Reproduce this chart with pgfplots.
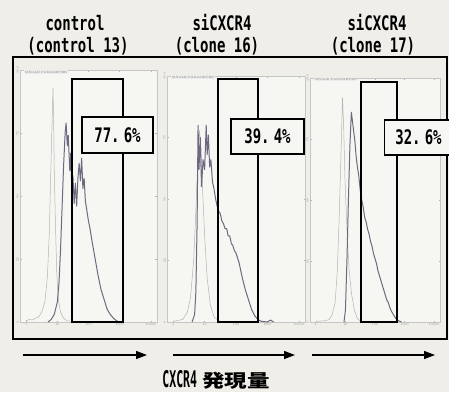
\documentclass[border=0pt]{standalone}
\usepackage{pgfplots}
\pgfplotsset{compat=1.18}
\usepackage{fontspec}
\usetikzlibrary{arrows.meta}
\newfontfamily\mono{DejaVu Sans Mono}
\newfontfamily\cjk{Noto Sans CJK JP}
\definecolor{bg}{HTML}{EFEEE9}
\definecolor{panelbg}{HTML}{F6F6F2}
\definecolor{iso}{HTML}{B3B3B3}
\definecolor{stain}{HTML}{6F6880}
\newcommand{\ttl}[1]{\scalebox{0.7}[1]{\mono\bfseries\fontsize{20}{20}\selectfont #1}}
\tikzset{gate/.style={draw=black, line width=1.8pt}}
\pgfplotsset{panel/.style={
  scale only axis, xmin=-0.2, xmax=4.2, ymin=0, ymax=100,
  axis line style={draw=gray!45, line width=0.4pt},
  axis background/.style={fill=panelbg},
  xtick={0,1,2,3,4}, xticklabels={1,10,100,1000,10000},
  ytick={0,25,50,75,100}, yticklabels={0,25,50,75,100},
  tick style={draw=gray!60, line width=0.3pt},
  major tick length=1.5pt, tick align=inside,
  x tick label style={font=\fontsize{3}{3}\selectfont, text=gray, inner sep=1pt},
  y tick label style={font=\fontsize{3}{3}\selectfont, text=gray, rotate=90, inner sep=1pt},
  clip=false,
  iso/.style={draw=iso, line width=0.5pt, mark=none},
  stain/.style={draw=stain, line width=1.0pt, mark=none, line join=round},
}}
\begin{document}
\begin{tikzpicture}
\fill[bg] (0pt,0pt) rectangle (449pt,392pt);
\path[use as bounding box] (0pt,0pt) rectangle (449pt,392pt);

% titles
\node[anchor=base] at (75pt,361pt) {\ttl{control}};
\node[anchor=base] at (78pt,340pt) {\ttl{(control 13)}};
\node[anchor=base] at (222pt,361pt) {\ttl{siCXCR4}};
\node[anchor=base] at (217pt,340pt) {\ttl{(clone 16)}};
\node[anchor=base] at (377pt,361pt) {\ttl{siCXCR4}};
\node[anchor=base] at (373pt,340pt) {\ttl{(clone 17)}};

% outer frame
\draw[line width=1.8pt] (13pt,53pt) rectangle (447pt,335pt);

% panel 1
\begin{axis}[panel, at={(20pt,70pt)}, anchor=south west, width=137pt, height=252pt]
\node[anchor=south west, font=\fontsize{3}{3}\selectfont, text=gray, fill=gray!15, inner sep=0.5pt] at (rel axis cs:0.03,0.985) {SINGLE PARAMETER};
\addplot[iso] coordinates {(0.0,0.5)(0.1,1.0)(0.2,0.8)(0.3,1.5)(0.4,2.0)(0.5,4)(0.6,8)(0.68,18)(0.74,35)(0.78,55)(0.82,75)(0.86,93)(0.88,80)(0.9,60)(0.94,38)(0.98,20)(1.03,9)(1.1,4)(1.2,1.5)(1.3,0.5)(1.5,0.2)(2.0,0)};
\addplot[stain] coordinates {(0.7,0)(0.8,1)(0.9,3)(1.0,8)(1.05,15)(1.1,28)(1.15,45)(1.2,62)(1.25,75)(1.28,79)(1.32,70)(1.35,74)(1.4,60)(1.43,67)(1.47,50)(1.5,58)(1.54,47)(1.58,55)(1.62,46)(1.66,57)(1.7,63)(1.74,56)(1.78,65)(1.82,53)(1.86,57)(1.9,48)(1.95,44)(2.0,40)(2.05,37)(2.1,33)(2.2,26)(2.3,19)(2.4,13)(2.5,9)(2.6,5)(2.7,3)(2.8,1.5)(2.9,0.5)(3.0,0)};
\draw[gate] (axis cs:1.47,0) rectangle (axis cs:3.11,96.4);
\end{axis}

% panel 2
\begin{axis}[panel, at={(167pt,70pt)}, anchor=south west, width=138pt, height=246pt]
\node[anchor=south west, font=\fontsize{3}{3}\selectfont, text=gray, fill=gray!15, inner sep=0.5pt] at (rel axis cs:0.03,0.985) {SINGLE PARAMETER};
\addplot[iso] coordinates {(0,0.3)(0.3,1)(0.45,4)(0.55,10)(0.65,25)(0.72,45)(0.78,65)(0.83,78)(0.88,72)(0.93,55)(1.0,35)(1.08,18)(1.18,7)(1.3,2)(1.45,0.5)(1.6,0)};
\addplot[stain] coordinates {(0.6,0)(0.68,3)(0.72,12)(0.76,40)(0.79,80)(0.82,62)(0.86,75)(0.9,55)(0.95,66)(1.0,62)(1.05,80)(1.08,68)(1.12,76)(1.16,63)(1.2,66)(1.25,57)(1.3,54)(1.35,50)(1.4,47)(1.45,45)(1.5,44)(1.55,41)(1.6,40)(1.65,38)(1.7,38)(1.75,35)(1.8,35)(1.85,32)(1.9,31)(1.95,29)(2.0,28)(2.05,26)(2.1,24)(2.2,18)(2.3,13)(2.4,9)(2.5,5)(2.6,2.5)(2.7,1)(2.8,0.3)(3.0,0)(3.1,0.8)(3.2,0)};
\draw[gate] (axis cs:1.42,0) rectangle (axis cs:2.70,98.8);
\end{axis}

% panel 3
\begin{axis}[panel, at={(310pt,70pt)}, anchor=south west, width=130pt, height=244pt]
\node[anchor=south west, font=\fontsize{3}{3}\selectfont, text=gray, fill=gray!15, inner sep=0.5pt] at (rel axis cs:0.03,0.985) {SINGLE PARAMETER};
\addplot[iso] coordinates {(0,0.3)(0.3,0.5)(0.45,1)(0.55,3)(0.65,8)(0.72,20)(0.78,40)(0.84,65)(0.9,92)(0.94,80)(0.98,60)(1.05,38)(1.12,22)(1.2,12)(1.3,5)(1.4,1.5)(1.5,0.3)(1.6,0)};
\addplot[stain] coordinates {(0.95,0)(1.0,5)(1.05,25)(1.1,50)(1.15,72)(1.2,86)(1.24,82)(1.28,78)(1.32,74)(1.36,68)(1.4,64)(1.45,60)(1.5,54)(1.55,50)(1.6,47)(1.65,43)(1.7,41)(1.75,38)(1.8,36)(1.85,33)(1.9,31)(1.95,28)(2.0,26)(2.05,24)(2.1,21)(2.15,19)(2.2,17)(2.25,15)(2.3,13)(2.35,11)(2.4,9)(2.45,8)(2.5,6)(2.55,4.5)(2.6,3.5)(2.65,2.5)(2.7,1.5)(2.8,0.5)(2.9,0)};
\draw[gate] (axis cs:1.53,0) rectangle (axis cs:2.75,98.4);
\end{axis}

% percentage boxes
\node[draw, line width=1.5pt, fill=panelbg, minimum width=71pt, minimum height=36pt, inner sep=0pt] at (117.5pt,257pt) {\ttl{77.\hspace{6pt}6\%}};
\node[draw, line width=1.5pt, fill=panelbg, minimum width=73pt, minimum height=35pt, inner sep=0pt] at (267.5pt,255.5pt) {\ttl{39.\hspace{6pt}4\%}};
\node[draw, line width=1.5pt, fill=panelbg, minimum width=68pt, minimum height=35pt, inner sep=0pt] at (418.5pt,254.5pt) {\ttl{32.\hspace{6pt}6\%}};

% arrows
\draw[line width=1.3pt, -{Triangle[length=11pt,width=8pt]}] (23pt,37pt) -- (147pt,37pt);
\draw[line width=1.3pt, -{Triangle[length=11pt,width=8pt]}] (173pt,37pt) -- (295pt,37pt);
\draw[line width=1.3pt, -{Triangle[length=11pt,width=8pt]}] (312pt,37pt) -- (435pt,37pt);

% bottom label
\node[anchor=base] at (216pt,5pt) {\scalebox{0.5}[1]{\mono\bfseries\fontsize{23}{23}\selectfont CXCR4}\hspace{5pt}\scalebox{1.25}[1]{\cjk\bfseries\fontsize{18}{18}\selectfont 発現量}};
\end{tikzpicture}
\end{document}
